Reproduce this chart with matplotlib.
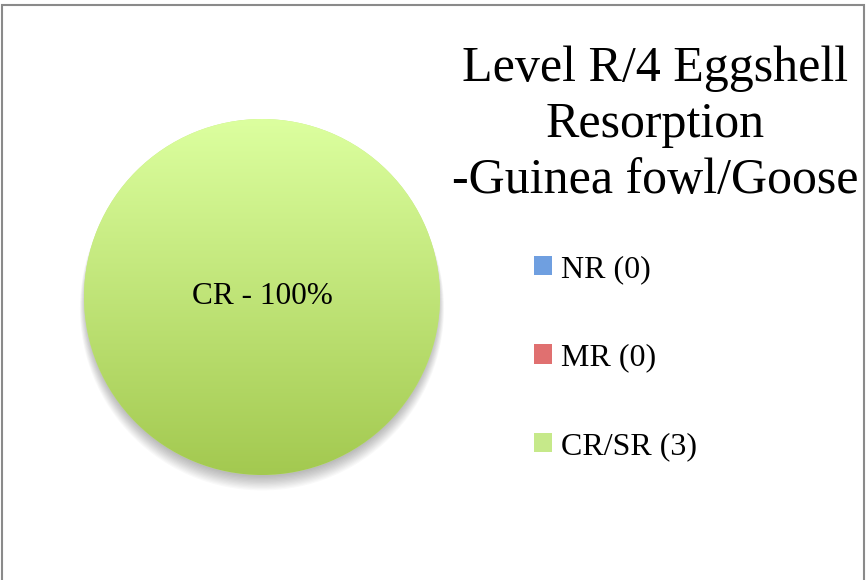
import numpy as np
import matplotlib
matplotlib.use('Agg')
import matplotlib.pyplot as plt
from matplotlib.patches import Rectangle, Circle
from matplotlib.colors import LinearSegmentedColormap

# data
categories = ['NR (0)', 'MR (0)', 'CR/SR (3)']
counts = [0, 0, 3]
top_colors = ['#a9c8f5', '#f5a3a3', '#dcff9f']
bottom_colors = ['#3f74c4', '#c94040', '#a3c950']
mid_colors = ['#6f9fe0', '#e07070', '#c6e98a']
title = 'Level R/4 Eggshell\nResorption\n-Guinea fowl/Goose'
inner_label = 'CR - 100%'

plt.rcParams['font.family'] = ['Liberation Serif', 'DejaVu Serif']

W, H = 866, 580
fig = plt.figure(figsize=(W / 100, H / 100), dpi=100)

# frame like the original chart area
fig.patches.append(Rectangle((2 / W, -0.05), (864 - 2) / W, 1.05 - 5 / H,
                             transform=fig.transFigure, fill=False,
                             edgecolor='#8a8a8a', lw=1.5))

cx, cy, r = 262, 297, 178
ax = fig.add_axes([(cx - r) / W, (H - cy - r) / H, 2 * r / W, 2 * r / H])
ax.set_xlim(-1, 1)
ax.set_ylim(-1, 1)
ax.set_aspect('equal')
ax.axis('off')

# soft shadow under the pie
for k in range(12):
    ax.add_patch(Circle((0, -0.02 - k * 0.004), 0.99 + k * 0.003,
                        color='black', alpha=0.022, lw=0, zorder=0,
                        clip_on=False))

wedges, _ = ax.pie(counts, startangle=90, counterclock=False, radius=1,
                   colors=mid_colors, wedgeprops=dict(lw=0))
for w in wedges:
    w.set_zorder(1)

# vertical gradient fill clipped to each wedge
grad = np.linspace(1, 0, 256).reshape(-1, 1)
for w, c0, c1 in zip(wedges, top_colors, bottom_colors):
    if w.theta2 - w.theta1 <= 0:
        continue
    cmap = LinearSegmentedColormap.from_list('g', [c1, c0])
    im = ax.imshow(grad, cmap=cmap, extent=[-1, 1, -1, 1], aspect='auto',
                   zorder=2, vmin=0, vmax=1)
    im.set_clip_path(w)
ax.set_xlim(-1, 1)
ax.set_ylim(-1, 1)

ax.text(0, 0, inner_label, ha='center', va='center', fontsize=22.5, zorder=3)

fig.text(655 / W, 1 - 46 / H, title, ha='center', va='top', fontsize=36,
         linespacing=1.26)

handles = [Rectangle((0, 0), 1, 1, facecolor=c, edgecolor='none') for c in mid_colors]
fig.legend(handles, categories, loc='upper left',
           bbox_to_anchor=(534 / W, 1 - 255 / H), frameon=False, fontsize=23,
           handlelength=0.56, handleheight=0.56, handletextpad=0.3,
           labelspacing=1.86, borderpad=0, borderaxespad=0)

fig.savefig('out.png', dpi=100)
